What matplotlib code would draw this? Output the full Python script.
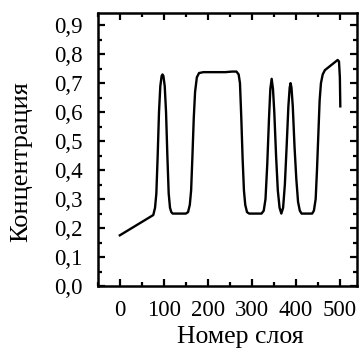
import matplotlib
matplotlib.use('Agg')
import matplotlib.pyplot as plt
from matplotlib.ticker import MultipleLocator, FuncFormatter

plt.rcParams['font.family'] = ['Liberation Serif', 'DejaVu Serif']

# Layer number vs concentration
layer = [0, 76, 80, 83, 86, 89, 92, 95, 97, 99, 102, 105, 108, 111, 114, 117, 120,
         150, 155, 159, 162, 165, 168, 171, 175, 180, 190, 240, 255, 265,
         270, 273, 276, 279, 282, 285, 289, 294, 322, 327, 331, 335, 339, 342,
         345, 348, 351, 355, 359, 363, 367, 371, 375, 379, 383, 386, 388, 390,
         393, 397, 401, 405, 409, 413, 437, 441, 445, 448, 451, 454, 457, 461,
         466, 495, 498, 500, 501]
conc = [0.175, 0.245, 0.27, 0.32, 0.45, 0.60, 0.69, 0.725, 0.73, 0.725, 0.69, 0.60,
        0.45, 0.32, 0.27, 0.255, 0.25,
        0.25, 0.255, 0.28, 0.33, 0.45, 0.58, 0.67, 0.72, 0.735, 0.738, 0.738, 0.74, 0.74,
        0.73, 0.70, 0.58, 0.44, 0.33, 0.28, 0.255, 0.25, 0.25, 0.26, 0.30, 0.42, 0.58, 0.68,
        0.715, 0.68, 0.60, 0.45, 0.33, 0.27, 0.25, 0.27, 0.35, 0.48, 0.62, 0.685, 0.70, 0.685,
        0.62, 0.48, 0.37, 0.29, 0.26, 0.25, 0.25, 0.26, 0.30, 0.40, 0.52, 0.64, 0.70, 0.73,
        0.745, 0.78, 0.775, 0.72, 0.62]

fig = plt.figure(figsize=(3.61, 3.54), dpi=100)
ax = fig.add_axes([0.271, 0.192, 0.718, 0.772])

ax.plot(layer, conc, color='black', linewidth=1.7)

ax.set_xlim(-50, 539)
ax.set_ylim(0, 0.943)

ax.xaxis.set_major_locator(MultipleLocator(100))
ax.xaxis.set_minor_locator(MultipleLocator(50))
ax.yaxis.set_major_locator(MultipleLocator(0.1))
ax.yaxis.set_minor_locator(MultipleLocator(0.05))
ax.xaxis.set_major_formatter(FuncFormatter(lambda v, p: '%d' % v if v >= 0 else ''))
ax.yaxis.set_major_formatter(FuncFormatter(lambda v, p: ('%.1f' % v).replace('.', ',')))

ax.tick_params(which='both', direction='in', top=True, right=True, width=1.6,
               labelsize=16.5)
ax.tick_params(axis='x', pad=10)
ax.tick_params(axis='y', pad=11)
ax.tick_params(which='major', length=5)
ax.tick_params(which='minor', length=3)

for s in ax.spines.values():
    s.set_linewidth(1.8)

ax.set_xlabel('Номер слоя', fontsize=18.5)
ax.xaxis.set_label_coords(0.549, -0.145)
ax.set_ylabel('Концентрация', fontsize=19)
ax.yaxis.set_label_coords(-0.253, 0.457)

fig.savefig('out.png', dpi=100, facecolor='white')
